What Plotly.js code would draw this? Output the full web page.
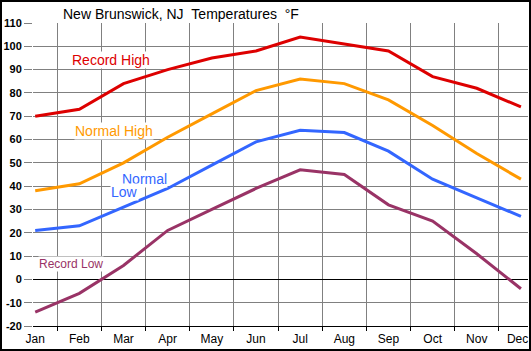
<!DOCTYPE html>
<html>
<head>
<meta charset="utf-8">
<script src="https://cdn.plot.ly/plotly-3.0.1.min.js"></script>
<style>
html,body{margin:0;padding:0;background:#fff;}
#chart{width:527px;height:347px;border:2px solid #000;}
</style>
</head>
<body>
<div id="chart"></div>
<script>
var months = ["Jan","Feb","Mar","Apr","May","Jun","Jul","Aug","Sep","Oct","Nov","Dec"];
var monthLabels = ["Jan","Feb","Mar","Apr","May","Jun","Jul","Aug","Sep","Oct","Nov",
                   "Dec<span style='color:rgba(0,0,0,0)'>n</span>"];
var recordHigh = [70, 73, 84, 90, 95, 98, 104, 101, 98, 87, 82, 74];
var normalHigh = [38, 41, 50, 61, 71, 81, 86, 84, 77, 66, 54, 43];
var normalLow  = [21, 23, 31, 39, 49, 59, 64, 63, 55, 43, 35, 27];
var recordLow  = [-14, -6, 6, 21, 30, 39, 47, 45, 32, 25, 11, -4];
var yTicks = [-20, -10, 0, 10, 20, 30, 40, 50, 60, 70, 80, 90, 100, 110];

var seriesNames = ["Record High", "Normal High", "Normal Low", "Record Low"];
var seriesData = [recordHigh, normalHigh, normalLow, recordLow];
var seriesColors = ["#dd0000", "#ff9900", "#3366ff", "#993366"];

var traces = seriesData.map(function(d, i){
  return {x: months, y: d, type: 'scatter', mode: 'lines', name: seriesNames[i],
          line: {color: seriesColors[i], width: 3}, hoverinfo: 'skip'};
});

var F = 'Arial, "Liberation Sans", Helvetica, sans-serif';
var annotations = [
  {x: 1.72, y: 94.2, text: 'Record High', color: seriesColors[0], size: 14},
  {x: 1.79, y: 63.8, text: 'Normal High', color: seriesColors[1], size: 14},
  {x: 2.47, y: 43.2, text: 'Normal', color: seriesColors[2], size: 14},
  {x: 2.03, y: 37.3, text: 'Low', color: seriesColors[2], size: 14},
  {x: 0.81, y: 6.6, text: 'Record Low', color: seriesColors[3], size: 12}
].map(function(a){
  return {x: a.x, y: a.y, xref: 'x', yref: 'y', text: a.text, showarrow: false,
          bgcolor: '#fff', borderpad: 0,
          xanchor: 'center', yanchor: 'middle', font: {family: F, size: a.size, color: a.color}};
});

var layout = {
  width: 527, height: 347,
  margin: {l: 31, r: 1, t: 21, b: 23, pad: 0},
  paper_bgcolor: '#fff', plot_bgcolor: '#fff',
  showlegend: false,
  font: {family: F, color: '#000'},
  title: {text: 'New Brunswick, NJ\u00a0\u00a0Temperatures\u00a0\u00a0\u00b0F',
          x: 61/527, xanchor: 'left', xref: 'container',
          y: 1 - 12/347, yanchor: 'middle', yref: 'container',
          font: {family: F, size: 14, color: '#000'}},
  xaxis: {type: 'category', range: [-0.05, 11.16], tickson: 'boundaries',
          tickmode: 'array', tickvals: months, ticktext: monthLabels,
          showgrid: true, gridcolor: '#808080', gridwidth: 1,
          ticks: 'outside', ticklen: 4, tickcolor: '#000', tickwidth: 1,
          ticklabelstandoff: 2,
          showline: true, linecolor: '#000', linewidth: 1,
          tickfont: {family: F, size: 12, color: '#000'}, fixedrange: true},
  yaxis: {range: [-20, 110], tickvals: yTicks, ticktext: yTicks.map(String),
          showgrid: true, gridcolor: '#808080', gridwidth: 1,
          zeroline: true, zerolinecolor: '#000', zerolinewidth: 1,
          ticks: 'outside', ticklen: 8, tickcolor: '#808080', tickwidth: 1,
          showline: false,
          tickfont: {family: F, size: 11, color: '#000', weight: 'bold'}, fixedrange: true},
  annotations: annotations
};

Plotly.newPlot('chart', traces, layout, {displayModeBar: false, staticPlot: true});
</script>
</body>
</html>
